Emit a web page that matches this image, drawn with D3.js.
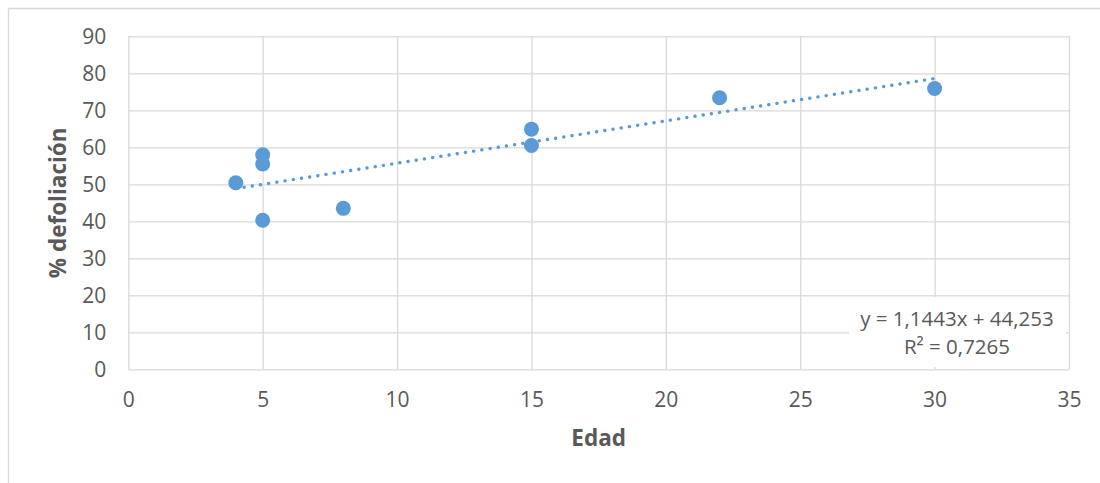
<!DOCTYPE html>
<html>
<head>
<meta charset="utf-8">
<script src="https://cdn.jsdelivr.net/npm/d3@7"></script>
<style>
  html, body { margin: 0; padding: 0; background: #fff; }
  svg { display: block; }
  text { font-family: "Open Sans", "Liberation Sans", sans-serif; fill: #595959; }
</style>
</head>
<body>
<svg id="chart" width="1100" height="483"></svg>
<script>
// Age (years) and % defoliation for each sampled stand
const edad = [4, 5, 5, 5, 8, 15, 15, 22, 30];
const defoliacion = [50.4, 58.0, 55.5, 40.3, 43.5, 64.9, 60.5, 73.4, 75.9];

// Linear trend fitted to the sample
const trendSlope = 1.1443;
const trendIntercept = 44.253;
const trendLabel = ["y = 1,1443x + 44,253", "R² = 0,7265"];

const xTicks = [0, 5, 10, 15, 20, 25, 30, 35];
const yTicks = [0, 10, 20, 30, 40, 50, 60, 70, 80, 90];

const xTitle = "Edad";
const yTitle = "% defoliación";

const svg = d3.select("#chart");
const plot = { left: 128.3, right: 1069, top: 36.3, bottom: 369.3 };
const grid = "#d9d9d9";
const blue = "#5b9bd5";

// Outer chart frame (top and left edges are visible)
svg.append("line").attr("x1", 8).attr("x2", 1100).attr("y1", 8.5).attr("y2", 8.5)
  .attr("stroke", grid).attr("stroke-width", 1.3);
svg.append("line").attr("x1", 8.5).attr("x2", 8.5).attr("y1", 8).attr("y2", 483)
  .attr("stroke", grid).attr("stroke-width", 1.3);

const x = d3.scaleLinear().domain([0, 35]).range([plot.left, plot.right]);
const y = d3.scaleLinear().domain([0, 90]).range([plot.bottom, plot.top]);

// Gridlines
svg.append("g")
  .attr("transform", `translate(0,${plot.bottom})`)
  .call(d3.axisBottom(x).tickValues(xTicks).tickSize(-(plot.bottom - plot.top)).tickFormat(""))
  .call(g => g.select(".domain").remove())
  .call(g => g.selectAll("line").attr("stroke", grid).attr("stroke-width", 1.3));

svg.append("g")
  .attr("transform", `translate(${plot.left},0)`)
  .call(d3.axisLeft(y).tickValues(yTicks).tickSize(-(plot.right - plot.left)).tickFormat(""))
  .call(g => g.select(".domain").remove())
  .call(g => g.selectAll("line").attr("stroke", grid).attr("stroke-width", 1.3));

// Tick labels
svg.append("g")
  .attr("transform", `translate(0,${plot.bottom})`)
  .call(d3.axisBottom(x).tickValues(xTicks).tickSize(0).tickPadding(38).tickFormat(d3.format("d")))
  .call(g => g.select(".domain").remove())
  .call(g => g.selectAll("text").style("font-size", "21px").attr("fill", "#595959").attr("dy", "0"));

svg.append("g")
  .attr("transform", `translate(${plot.left},0)`)
  .call(d3.axisLeft(y).tickValues(yTicks).tickSize(0).tickPadding(22).tickFormat(d3.format("d")))
  .call(g => g.select(".domain").remove())
  .call(g => g.selectAll("text").style("font-size", "21px").attr("fill", "#595959").attr("dy", "0.35em"));

// Trend line
const xs = [d3.min(edad), d3.max(edad)];
svg.append("path")
  .datum(xs.map(v => [v, trendSlope * v + trendIntercept]))
  .attr("d", d3.line().x(d => x(d[0])).y(d => y(d[1])))
  .attr("fill", "none")
  .attr("stroke", blue)
  .attr("stroke-width", 3.4)
  .attr("stroke-linecap", "round")
  .attr("stroke-dasharray", "0.1 8.2");

// Points
svg.append("g").selectAll("circle")
  .data(edad.map((v, i) => [v, defoliacion[i]]))
  .join("circle")
  .attr("cx", d => x(d[0]))
  .attr("cy", d => y(d[1]))
  .attr("r", 7.5)
  .attr("fill", blue);

// Trend equation label
const lbl = svg.append("g");
lbl.append("rect")
  .attr("x", 849).attr("y", 297).attr("width", 217).attr("height", 70)
  .attr("fill", "#fff");
lbl.append("text")
  .attr("x", 957).attr("y", 326)
  .attr("text-anchor", "middle")
  .style("font-size", "20.5px")
  .text(trendLabel[0]);
lbl.append("text")
  .attr("x", 957).attr("y", 354)
  .attr("text-anchor", "middle")
  .style("font-size", "20.5px")
  .text(trendLabel[1]);

// Axis titles
svg.append("text")
  .attr("x", (plot.left + plot.right) / 2).attr("y", 446)
  .attr("text-anchor", "middle")
  .style("font-size", "22.5px").style("font-weight", "bold")
  .text(xTitle);

svg.append("text")
  .attr("transform", `translate(66,${(plot.top + plot.bottom) / 2}) rotate(-90)`)
  .attr("text-anchor", "middle")
  .style("font-size", "22.5px").style("font-weight", "bold")
  .text(yTitle);
</script>
</body>
</html>
